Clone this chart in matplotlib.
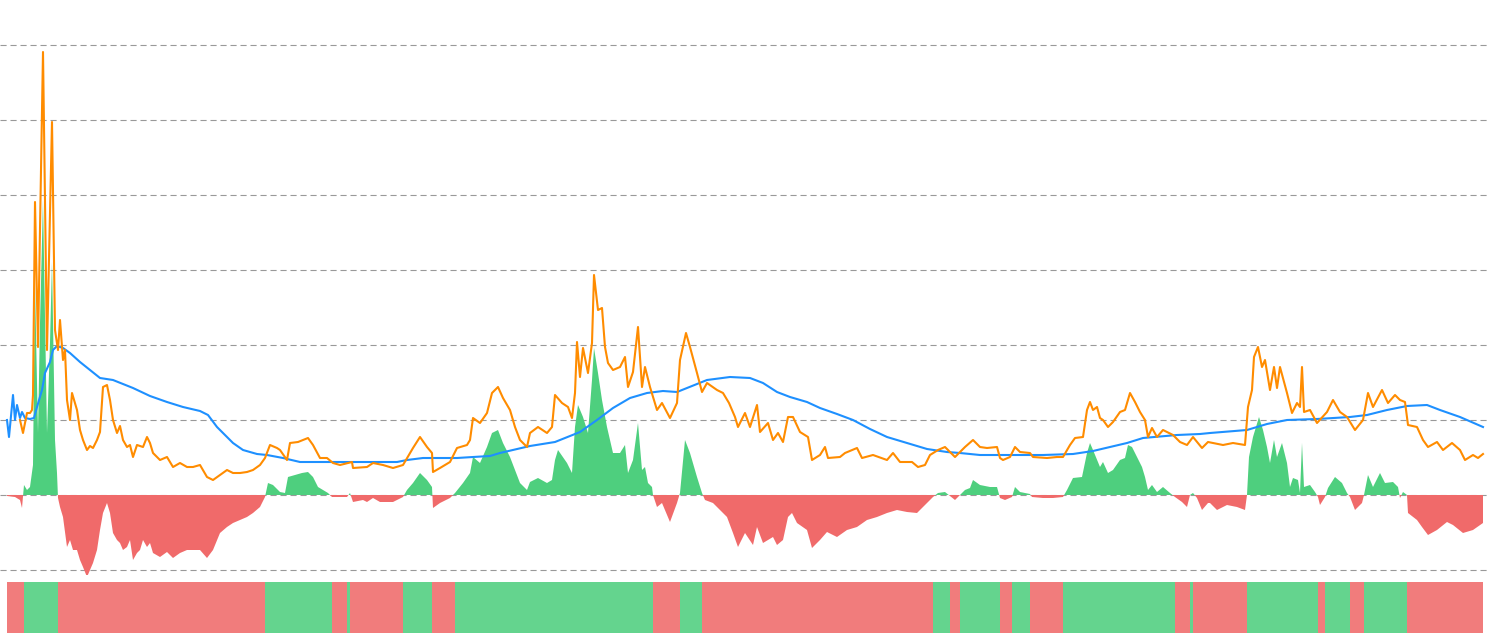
import matplotlib
matplotlib.use('Agg')
import matplotlib.pyplot as plt
import numpy as np

# moving average (blue)
ma_t = [7, 9, 13, 15, 17, 20, 22, 25, 30, 34, 37, 42, 45, 50, 53, 57, 63, 70, 80, 90,
        100, 113, 133, 150, 167, 183, 200, 208, 217, 227, 233, 243, 257, 267, 283, 300,
        307, 340, 373, 397, 407, 423, 440, 457, 473, 490, 500, 530, 555, 580, 597, 613,
        630, 647, 663, 677, 687, 707, 730, 750, 763, 777, 790, 807, 820, 837, 853, 870,
        887, 907, 927, 947, 960, 980, 1010, 1043, 1073, 1093, 1110, 1127, 1143, 1177,
        1200, 1210, 1247, 1267, 1287, 1317, 1350, 1367, 1387, 1407, 1427, 1440, 1460, 1483]
ma_v = [75, 58, 100, 75, 90, 77, 83, 77, 76, 77, 88, 105, 122, 133, 145, 149, 147, 142, 133, 125,
        117, 115, 107, 99, 93, 88, 84, 80, 68, 58, 52, 45, 41, 40, 37, 33,
        33, 33, 33, 33, 35, 37, 37, 37, 38, 39, 42, 49, 53, 63, 75, 87,
        97, 102, 104, 103, 107, 115, 118, 117, 112, 103, 98, 93, 87, 81, 75, 66,
        58, 52, 46, 43, 42, 40, 40, 40, 41, 44, 48, 52, 57, 60,
        61, 62, 65, 71, 75, 76, 78, 80, 85, 89, 90, 85, 78, 68]

# price (orange)
price_t = [20, 23, 27, 30, 32, 33, 35, 38, 43, 47, 52, 55, 58, 60, 63, 65, 67, 70, 72, 77,
           80, 83, 87, 90, 93, 97, 100, 103, 107, 110, 113, 117, 120, 123, 127, 130, 133, 137,
           143, 147, 150, 153, 160, 167, 173, 180, 187, 193, 200, 207, 213, 220, 227, 233, 240,
           247, 253, 260, 265, 270, 277, 280, 287, 290, 298, 308, 313, 320, 327, 333, 340, 352,
           353, 367, 373, 383, 393, 403, 413, 420, 427, 432, 433, 440, 450, 457, 467, 470, 473,
           480, 487, 492, 498, 503, 510, 515, 520, 527, 530, 538, 547, 552, 555, 562, 568, 572,
           575, 577, 580, 583, 588, 592, 594, 598, 602, 605, 608, 613, 620, 625, 628, 633, 638,
           642, 645, 650, 657, 662, 670, 677, 680, 686, 690, 697, 702, 707, 717, 723, 729, 735,
           738, 745, 750, 757, 760, 768, 773, 778, 783, 788, 793, 800, 808, 812, 820, 825, 828,
           840, 845, 857, 862, 873, 887, 893, 900, 912, 918, 925, 930, 938, 945, 955, 965, 973,
           980, 987, 997, 1000, 1003, 1010, 1015, 1020, 1030, 1033, 1047, 1057, 1063, 1070, 1075,
           1083, 1087, 1090, 1093, 1097, 1100, 1103, 1108, 1113, 1120, 1125, 1130, 1135, 1140,
           1145, 1148, 1152, 1157, 1163, 1173, 1180, 1187, 1193, 1202, 1208, 1213, 1223, 1233,
           1245, 1248, 1252, 1254, 1258, 1262, 1265, 1270, 1274, 1277, 1280, 1287, 1292, 1297,
           1300, 1302, 1304, 1310, 1317, 1327, 1333, 1340, 1347, 1355, 1363, 1368, 1373, 1382,
           1388, 1395, 1400, 1405, 1408, 1417, 1423, 1428, 1437, 1443, 1452, 1460, 1465, 1473,
           1478, 1483]
price_v = [75, 62, 82, 82, 85, 100, 293, 148, 443, 145, 373, 165, 145, 175, 135, 145, 95, 75, 102, 85,
           65, 55, 45, 49, 47, 55, 63, 108, 110, 95, 75, 62, 69, 55, 48, 50, 38, 50,
           48, 58, 52, 42, 35, 38, 28, 32, 28, 28, 30, 18, 15, 20, 25, 22, 22,
           23, 25, 30, 37, 50, 47, 45, 35, 52, 53, 57, 50, 37, 37, 32, 30, 33,
           27, 28, 32, 30, 27, 30, 47, 58, 48, 42, 23, 27, 33, 47, 50, 55, 77,
           72, 82, 102, 108, 97, 85, 68, 55, 48, 62, 68, 62, 68, 100, 92, 88, 77,
           102, 153, 118, 147, 122, 152, 220, 185, 187, 148, 132, 125, 128, 138, 108, 123, 168,
           108, 128, 108, 85, 92, 77, 92, 135, 162, 148, 122, 103, 112, 105, 102, 92, 78,
           68, 82, 68, 90, 63, 72, 55, 62, 53, 78, 78, 63, 58, 35, 40, 48, 37,
           38, 42, 47, 37, 40, 35, 42, 33, 33, 28, 30, 40, 45, 48, 38, 48, 55,
           48, 47, 48, 37, 35, 38, 48, 43, 42, 38, 37, 38, 38, 50, 57,
           58, 85, 93, 85, 88, 77, 75, 68, 73, 83, 85, 102, 93, 83,
           75, 58, 67, 58, 65, 60, 53, 50, 58, 47, 53, 52, 50, 52,
           50, 88, 105, 138, 148, 128, 135, 105, 128, 107, 128, 102, 82, 92,
           88, 128, 83, 85, 72, 83, 95, 83, 78, 65, 75, 102, 88, 105,
           92, 100, 95, 93, 70, 68, 55, 48, 53, 45, 52, 45, 35, 40,
           37, 41]

# oscillator (green above / red below zero)
osc_t = [7, 15, 20, 22, 24, 27, 30, 33, 35, 38, 40, 43, 47, 50, 52, 55, 57, 58, 60, 63,
         67, 70, 73, 77, 80, 83, 87, 90, 93, 97, 100, 103, 107, 110, 113, 117, 120, 123, 127,
         130, 133, 137, 140, 143, 147, 150, 153, 160, 167, 173, 180, 187, 193, 200, 207, 213,
         220, 227, 233, 240, 247, 253, 260, 265, 268, 273, 280, 285, 288, 295, 302, 308, 313,
         318, 323, 328, 332, 340, 347, 350, 353, 363, 367, 373, 380, 393, 403, 407, 413, 420,
         427, 432, 433, 440, 450, 455, 463, 470, 473, 480, 487, 492, 498, 503, 510, 515, 520,
         527, 530, 538, 547, 552, 555, 558, 567, 572, 575, 578, 583, 588, 592, 594, 598, 602,
         607, 613, 620, 625, 628, 633, 638, 642, 645, 648, 652, 653, 657, 662, 670, 677, 680,
         685, 690, 697, 702, 705, 713, 720, 727, 733, 738, 745, 753, 757, 763, 773, 777, 783,
         788, 792, 797, 807, 812, 820, 827, 837, 847, 857, 867, 877, 887, 897, 907, 917, 923,
         933, 938, 945, 950, 955, 960, 965, 970, 973, 980, 990, 997, 1000, 1005, 1012, 1015,
         1020, 1030, 1032, 1043, 1053, 1063, 1067, 1073, 1082, 1087, 1090, 1093, 1100, 1103,
         1108, 1113, 1120, 1125, 1128, 1132, 1137, 1142, 1145, 1148, 1152, 1157, 1163, 1170,
         1175, 1182, 1187, 1190, 1193, 1197, 1202, 1208, 1210, 1217, 1227, 1237, 1245, 1247,
         1249, 1253, 1259, 1263, 1267, 1270, 1274, 1277, 1282, 1287, 1290, 1293, 1298, 1300,
         1302, 1304, 1310, 1315, 1318, 1320, 1325, 1328, 1335, 1342, 1347, 1350, 1355, 1362,
         1364, 1368, 1373, 1380, 1385, 1393, 1398, 1400, 1403, 1407, 1408, 1417, 1422, 1428,
         1437, 1447, 1453, 1463, 1473, 1483]
osc_v = [-1, -2, -5, -13, 10, 5, 8, 30, 212, 62, 172, 295, 62, 152, 233, 55, 22, -3, -12, -22,
         -52, -45, -55, -55, -65, -72, -82, -75, -68, -55, -35, -18, -8, -18, -38, -45, -48, -55, -52,
         -45, -65, -58, -55, -45, -52, -48, -58, -62, -57, -63, -58, -55, -55, -55, -63, -55,
         -38, -32, -28, -25, -22, -18, -12, -2, 12, 10, 3, 2, 18, 20, 22, 23, 18,
         8, 5, 2, -2, -2, -2, 2, -7, -5, -7, -3, -7, -7, -2, 5, 12, 22,
         15, 8, -13, -8, -3, 2, 12, 22, 38, 32, 48, 62, 65, 52, 38, 25, 12,
         5, 13, 17, 12, 15, 35, 45, 32, 22, 68, 90, 78, 62, 115, 147, 122, 95,
         68, 42, 42, 50, 22, 35, 72, 25, 28, 12, 8, 0, -12, -8, -27, -8, 2,
         55, 42, 18, 2, -5, -8, -15, -22, -38, -52, -38, -50, -32, -48, -42, -50, -45,
         -22, -18, -28, -35, -53, -45, -37, -42, -35, -32, -25, -22, -18, -15, -17, -18, -12,
         -2, 2, 3, -1, -5, 0, 5, 7, 15, 10, 8, 8, -3, -5, -2, 8,
         3, 1, -2, -3, -3, -2, 5, 17, 18, 42, 52, 45, 28, 33,
         22, 25, 35, 37, 50, 48, 38, 28, 18, 5, 10, 3, 8, 2,
         -2, -7, -12, 0, 2, -3, -15, -8, -8, -15, -10, -12, -15, 0,
         38, 58, 78, 65, 48, 32, 55, 38, 52, 32, 8, 17, 15, 2,
         52, 8, 10, 3, -2, -10, -2, 7, 18, 12, 2, -2, -15, -8,
         0, 20, 8, 22, 12, 13, 8, -3, 3, 0, -18, -25, -32, -40,
         -35, -27, -30, -38, -35, -28]

GREEN = '#4ecf7e'
RED = '#f06a6a'

fig = plt.figure(figsize=(14.9, 6.33), dpi=100)
ax = fig.add_axes([0, 58 / 633, 1487 / 1490, 575 / 633])
band = fig.add_axes([0, 0, 1487 / 1490, 51 / 633])

t = np.array(osc_t, dtype=float)
v = np.array(osc_v, dtype=float)
ax.fill_between(t, v, 0, where=v >= 0, interpolate=True, color=GREEN, lw=0, zorder=2)
ax.fill_between(t, v, 0, where=v <= 0, interpolate=True, color=RED, lw=0, zorder=2)
ax.plot(ma_t, ma_v, color='#1e90ff', lw=1.5, zorder=3)
ax.plot(price_t, price_v, color='#ff8c00', lw=1.5, zorder=4)

ax.set_xlim(0, 1487)
ax.set_ylim(-80, 495)
ax.set_yticks([-75, 0, 75, 150, 225, 300, 375, 450])
ax.grid(axis='y', color='#999999', lw=0.8, linestyle=(0, (5.5, 3.5)), zorder=1)
ax.tick_params(left=False, bottom=False, labelleft=False, labelbottom=False)
for s in ax.spines.values():
    s.set_visible(False)
ax.patch.set_alpha(0)

# bottom band: colour by sign of oscillator
widths = np.diff(t)
cols = [GREEN if (a + b) >= 0 else RED for a, b in zip(v[:-1], v[1:])]
band.bar(t[:-1], 1, width=widths, align='edge', color=cols, alpha=0.88, lw=0)
band.set_xlim(0, 1487)
band.set_ylim(0, 1)
band.axis('off')

fig.savefig('out.png', dpi=100)
